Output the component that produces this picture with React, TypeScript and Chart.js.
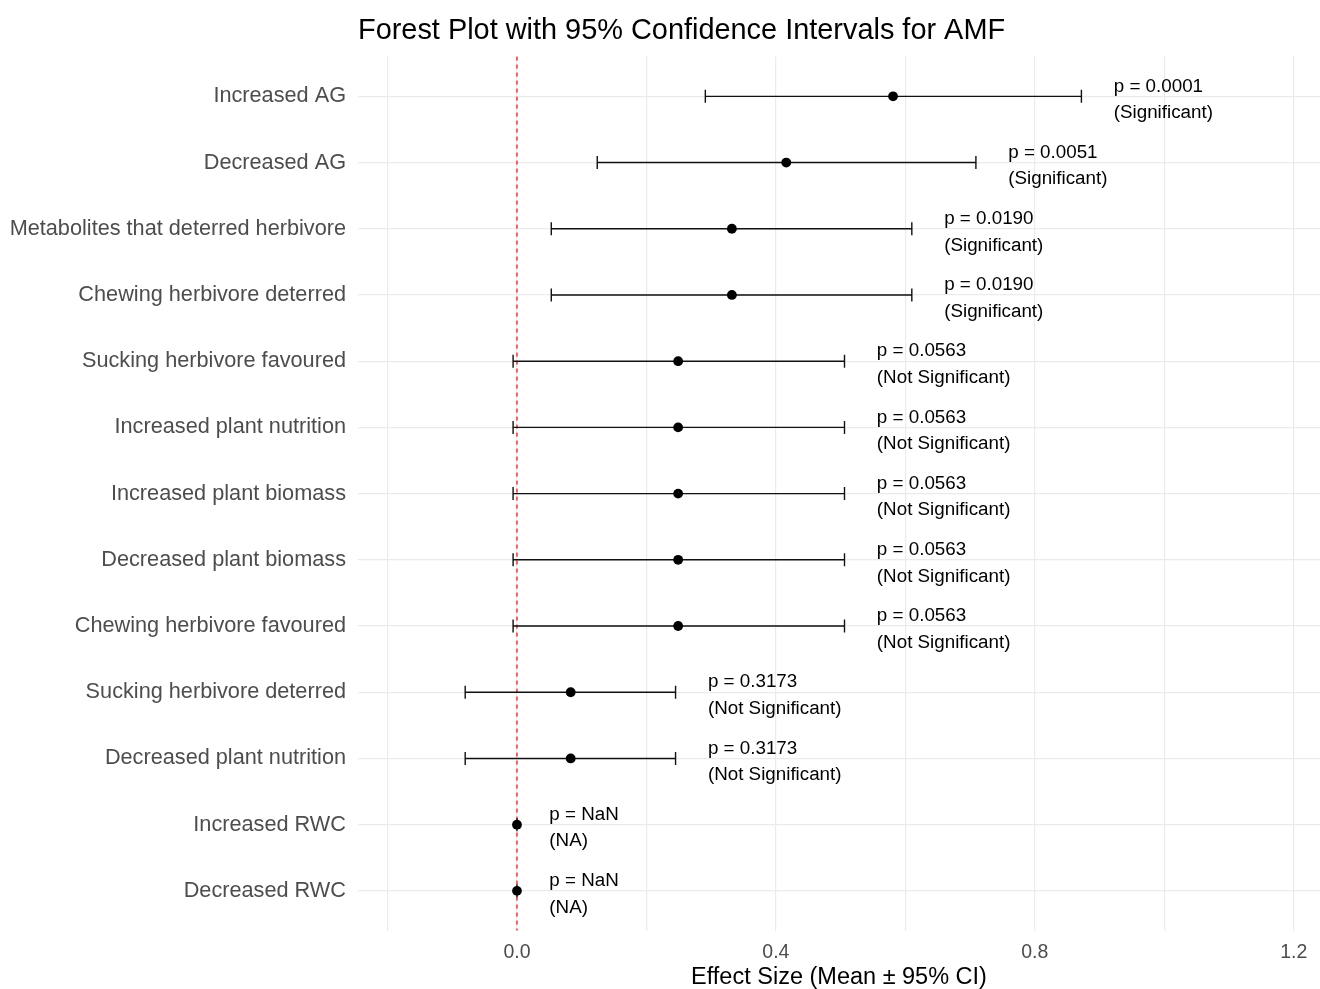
import React, { useEffect, useRef } from "react";
import { Chart, registerables } from "chart.js";

Chart.register(...registerables);

const categories = [
  "Increased AG",
  "Decreased AG",
  "Metabolites that deterred herbivore",
  "Chewing herbivore deterred",
  "Sucking herbivore favoured",
  "Increased plant nutrition",
  "Increased plant biomass",
  "Decreased plant biomass",
  "Chewing herbivore favoured",
  "Sucking herbivore deterred",
  "Decreased plant nutrition",
  "Increased RWC",
  "Decreased RWC",
];
const means = [0.581, 0.416, 0.332, 0.332, 0.249, 0.249, 0.249, 0.249, 0.249, 0.083, 0.083, 0, 0];
const lowers = [0.291, 0.124, 0.053, 0.053, -0.006, -0.006, -0.006, -0.006, -0.006, -0.08, -0.08, 0, 0];
const uppers = [0.872, 0.709, 0.61, 0.61, 0.506, 0.506, 0.506, 0.506, 0.506, 0.245, 0.245, 0, 0];
const pValues = ["0.0001", "0.0051", "0.0190", "0.0190", "0.0563", "0.0563", "0.0563", "0.0563", "0.0563", "0.3173", "0.3173", "NaN", "NaN"];
const significance = [
  "Significant", "Significant", "Significant", "Significant",
  "Not Significant", "Not Significant", "Not Significant", "Not Significant", "Not Significant",
  "Not Significant", "Not Significant", "NA", "NA",
];
const xTickValues = [-0.2, 0, 0.2, 0.4, 0.6, 0.8, 1.0, 1.2];
const xTickLabels = ["", "0.0", "", "0.4", "", "0.8", "", "1.2"];
const xMin = -0.2456;
const xMax = 1.2406;
const labelOffset = 0.05;
const titleText = "Forest Plot with 95% Confidence Intervals for AMF";
const xAxisTitle = "Effect Size (Mean \u00b1 95% CI)";

const FONT = '"Liberation Sans", Arial, Helvetica, sans-serif';

const forestPlugin = {
  id: "forestExtras",
  beforeDatasetsDraw(chart: any) {
    const { ctx, chartArea, scales } = chart;
    const x = scales.x;
    const y = scales.y;
    ctx.save();
    // zero reference line
    const x0 = x.getPixelForValue(0);
    ctx.strokeStyle = "#FF0000";
    ctx.lineWidth = 1.2;
    ctx.setLineDash([4, 4]);
    ctx.beginPath();
    ctx.moveTo(x0, chartArea.top);
    ctx.lineTo(x0, chartArea.bottom);
    ctx.stroke();
    ctx.setLineDash([]);
    // error bars
    ctx.strokeStyle = "#111111";
    ctx.lineWidth = 1.4;
    const cap = 6.5;
    for (let i = 0; i < categories.length; i++) {
      const py = y.getPixelForValue(i);
      const xl = x.getPixelForValue(lowers[i]);
      const xu = x.getPixelForValue(uppers[i]);
      ctx.beginPath();
      ctx.moveTo(xl, py);
      ctx.lineTo(xu, py);
      ctx.moveTo(xl, py - cap);
      ctx.lineTo(xl, py + cap);
      ctx.moveTo(xu, py - cap);
      ctx.lineTo(xu, py + cap);
      ctx.stroke();
    }
    ctx.restore();
  },
  afterDatasetsDraw(chart: any) {
    const { ctx, scales } = chart;
    const x = scales.x;
    const y = scales.y;
    ctx.save();
    ctx.fillStyle = "#000000";
    ctx.font = `18.8px ${FONT}`;
    ctx.textAlign = "left";
    ctx.textBaseline = "alphabetic";
    for (let i = 0; i < categories.length; i++) {
      const py = y.getPixelForValue(i);
      const px = x.getPixelForValue(uppers[i] + labelOffset);
      ctx.fillText(`p = ${pValues[i]}`, px, py - 4.8);
      ctx.fillText(`(${significance[i]})`, px, py + 21.8);
    }
    ctx.restore();
  },
  afterDraw(chart: any) {
    const { ctx, chartArea } = chart;
    ctx.save();
    ctx.fillStyle = "#000000";
    ctx.font = `28.9px ${FONT}`;
    ctx.textAlign = "left";
    ctx.textBaseline = "alphabetic";
    ctx.fillText(titleText, chartArea.left, 39);
    ctx.restore();
  },
};

export default function App() {
  const canvasRef = useRef<HTMLCanvasElement | null>(null);

  useEffect(() => {
    const canvas = canvasRef.current;
    if (!canvas) return;
    const chart = new Chart(canvas, {
      type: "scatter",
      data: {
        datasets: [
          {
            data: means.map((m, i) => ({ x: m, y: i })),
            backgroundColor: "#000000",
            borderColor: "#000000",
            borderWidth: 0,
            pointRadius: 4.9,
            pointHoverRadius: 4.9,
          },
        ],
      },
      options: {
        animation: false,
        responsive: false,
        devicePixelRatio: 1,
        layout: { autoPadding: false, padding: { top: 56.6, left: 0, right: 0, bottom: 0 } },
        plugins: {
          legend: { display: false },
          title: { display: false },
          tooltip: { enabled: false },
        },
        scales: {
          x: {
            type: "linear",
            min: xMin,
            max: xMax,
            afterBuildTicks: (scale: any) => {
              scale.ticks = xTickValues.map((v) => ({ value: v }));
            },
            afterFit: (scale: any) => {
              scale.height = 58.4;
              scale.paddingLeft = 0;
              scale.paddingRight = 0;
            },
            ticks: {
              autoSkip: false,
              maxRotation: 0,
              padding: 10,
              color: "#4D4D4D",
              font: { family: FONT, size: 19.5 },
              callback: (_v: any, idx: number) => xTickLabels[idx] ?? "",
            },
            grid: { color: "#EBEBEB", lineWidth: 1.2, drawTicks: false },
            border: { display: false },
            title: {
              display: true,
              text: xAxisTitle,
              color: "#000000",
              font: { family: FONT, size: 23.5, lineHeight: 0.945 },
              padding: { top: 0, bottom: 0 },
            },
          },
          y: {
            type: "linear",
            reverse: true,
            min: -0.6,
            max: 12.6,
            afterBuildTicks: (scale: any) => {
              scale.ticks = categories.map((_c, i) => ({ value: i }));
            },
            afterFit: (scale: any) => {
              scale.width = 358;
              scale.paddingTop = 0;
              scale.paddingBottom = 0;
            },
            ticks: {
              autoSkip: false,
              padding: 12,
              color: "#4D4D4D",
              font: { family: FONT, size: 21.7 },
              callback: (v: any) => categories[Math.round(Number(v))] ?? "",
            },
            grid: { color: "#EBEBEB", lineWidth: 1.2, drawTicks: false },
            border: { display: false },
          },
        },
      },
      plugins: [forestPlugin],
    });
    return () => chart.destroy();
  }, []);

  return (
    <div style={{ position: "absolute", left: 0, top: 0, width: 1320, height: 989, background: "#ffffff" }}>
      <canvas ref={canvasRef} width={1320} height={989} style={{ display: "block" }} />
    </div>
  );
}
